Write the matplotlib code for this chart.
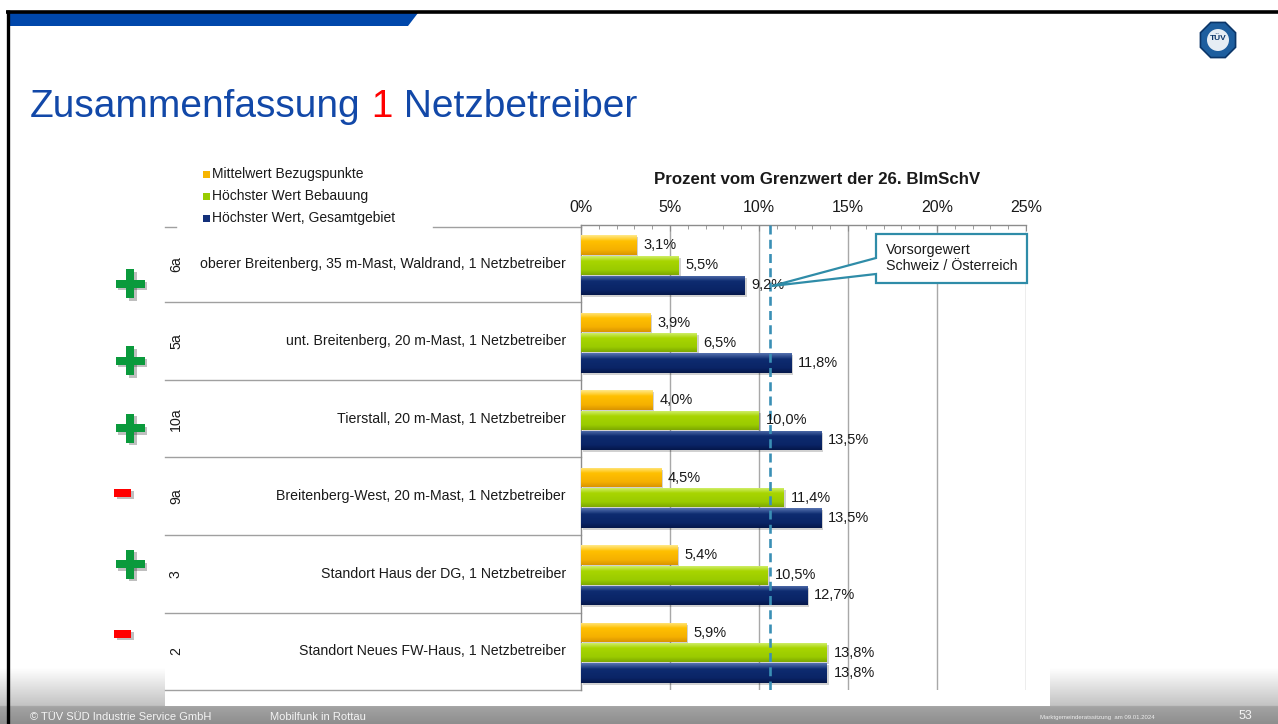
import numpy as np
import matplotlib
matplotlib.use("Agg")
import matplotlib.pyplot as plt
from matplotlib.patches import Rectangle, Polygon, RegularPolygon, Circle
from matplotlib.colors import LinearSegmentedColormap, to_rgb
import matplotlib.transforms as mtransforms

plt.rcParams['font.family'] = ['Liberation Sans', 'DejaVu Sans']

# ---------------- data ----------------
codes = ['6a', '5a', '10a', '9a', '3', '2']
sites = ['oberer Breitenberg, 35 m-Mast, Waldrand, 1 Netzbetreiber',
         'unt. Breitenberg, 20 m-Mast, 1 Netzbetreiber',
         'Tierstall, 20 m-Mast, 1 Netzbetreiber',
         'Breitenberg-West, 20 m-Mast, 1 Netzbetreiber',
         'Standort Haus der DG, 1 Netzbetreiber',
         'Standort Neues FW-Haus, 1 Netzbetreiber']
signs = ['+', '+', '+', '-', '+', '-']
mittelwert = [3.1, 3.9, 4.0, 4.5, 5.4, 5.9]
bebauung = [5.5, 6.5, 10.0, 11.4, 10.5, 13.8]
gesamt = [9.2, 11.8, 13.5, 13.5, 12.7, 13.8]
series_names = ['Mittelwert Bezugspunkte', 'Höchster Wert Bebauung',
                'Höchster Wert, Gesamtgebiet']
x_ticks = [0, 5, 10, 15, 20, 25]
vorsorgewert = 10.6
axis_title = 'Prozent vom Grenzwert der 26. BImSchV'
callout_text = 'Vorsorgewert\nSchweiz / Österreich'

# ---------------- style ----------------
W, H = 1278, 724
series_grad = [['#FFE98A', '#FFC000', '#F5B000', '#D99400'],
               ['#D6F27A', '#A8D500', '#9ACB00', '#7DA800'],
               ['#5672B0', '#0E2C70', '#0A2466', '#05174A']]
legend_colors = ['#F7B500', '#99CC00', '#13307A']
offsets = [-0.24, 0.02, 0.28]
bar_h = 0.25
sign_dy = [0.26, 0.25, 0.12, -0.045, -0.12, -0.225]
teal = '#2F8CA8'

fig = plt.figure(figsize=(W / 100, H / 100), dpi=100)
fig.patch.set_facecolor('white')

# background axes in pixel coordinates
bg = fig.add_axes([0, 0, 1, 1], zorder=0)
bg.set_xlim(0, W)
bg.set_ylim(H, 0)
bg.axis('off')

# footer gradient
rows = np.linspace(668, 724, 112)
img = np.zeros((len(rows), 1, 3))
for k, yy in enumerate(rows):
    if yy < 706:
        t = np.clip((yy - 668) / (706 - 668), 0, 1)
        c = np.array(to_rgb('#FFFFFF')) * (1 - t) + np.array(to_rgb('#C2C2C2')) * t
    else:
        t = (yy - 706) / (724 - 706)
        c = np.array(to_rgb('#A4A4A4')) * (1 - t) + np.array(to_rgb('#8E8E8E')) * t
    img[k, 0] = c
bg.imshow(img, extent=(0, W, 724, 668), origin='upper', aspect='auto', zorder=1,
          interpolation='bilinear')
bg.add_patch(Rectangle((165, 640), 1050 - 165, 706 - 640, facecolor='white',
                       edgecolor='none', zorder=2))
bg.set_xlim(0, W)
bg.set_ylim(H, 0)

# frame + top bar
bg.plot([6, W], [11.5, 11.5], color='black', lw=2.6, solid_capstyle='butt', zorder=5)
bg.plot([7.5, 7.5], [10, H], color='black', lw=2.4, solid_capstyle='butt', zorder=5)
bg.add_patch(Polygon([(9, 13), (418, 13), (408, 26), (9, 26)], closed=True,
                     facecolor='#0047AB', edgecolor='none', zorder=4))

# logo
bg.add_patch(RegularPolygon((1218, 40), numVertices=8, radius=19, orientation=np.pi / 8,
                            facecolor='#1E5E9E', edgecolor='#0B3568', lw=1.2, zorder=5))
bg.add_patch(Circle((1218, 40), 11, facecolor='#E6EDF4', edgecolor='none', zorder=6))
bg.text(1218, 39, 'TÜV', ha='center', va='center', fontsize=6, fontweight='bold',
        color='#0B3568', zorder=7)

# title
t1 = bg.text(30, 125, 'Zusammenfassung', fontsize=28, color='#1248A8', va='bottom',
             ha='left', zorder=5)
t2 = bg.annotate(' 1', xy=(1, 0), xycoords=t1, fontsize=28, color='#FF0000',
                 va='bottom', ha='left', zorder=5)
bg.annotate(' Netzbetreiber', xy=(1, 0), xycoords=t2, fontsize=28, color='#1248A8',
            va='bottom', ha='left', zorder=5)

# legend
for k, (name, col) in enumerate(zip(series_names, legend_colors)):
    yy = [174, 196, 218][k]
    bg.add_patch(Rectangle((203, yy - 3.5), 7, 7, facecolor=col, edgecolor='none', zorder=5))
    bg.text(211.5, yy, name, fontsize=10, va='center', ha='left', color='#1a1a1a', zorder=5)

# axis title
bg.text(817, 179, axis_title, fontsize=12.2, fontweight='bold', ha='center',
        va='center', color='#1a1a1a', zorder=5)

# footer text
bg.text(30, 717, '© TÜV SÜD Industrie Service GmbH', fontsize=8, color='#F4F4F4',
        va='center', ha='left', zorder=5)
bg.text(270, 717, 'Mobilfunk in Rottau', fontsize=8, color='#F4F4F4',
        va='center', ha='left', zorder=5)
bg.text(1040, 718, 'Marktgemeinderatssitzung  am 09.01.2024', fontsize=4.3, color='#EEEEEE',
        va='center', ha='left', zorder=5)
bg.text(1252, 716, '53', fontsize=9, color='#F4F4F4', va='center', ha='right', zorder=5)

# ---------------- main chart ----------------
x0, x1, y0, y1 = 581, 1026, 225, 690
ax = fig.add_axes([x0 / W, (H - y1) / H, (x1 - x0) / W, (y1 - y0) / H], zorder=3)
ax.set_facecolor('none')
n = len(codes)
ypos = np.arange(n)
ax.set_xlim(0, 25)
ax.set_ylim(n - 0.5, -0.5)

for s in ['right', 'bottom']:
    ax.spines[s].set_visible(False)
for s in ['left', 'top']:
    ax.spines[s].set_color('#8C8C8C')
    ax.spines[s].set_linewidth(1)
ax.set_yticks([])
ax.xaxis.tick_top()
ax.set_xticks(x_ticks)
ax.set_xticklabels([f'{v}%' for v in x_ticks], fontsize=11.5, color='#1a1a1a')
ax.set_xticks(np.arange(0, 26, 1), minor=True)
ax.tick_params(axis='x', which='major', direction='in', length=4, color='#8C8C8C', pad=7)
ax.tick_params(axis='x', which='minor', direction='in', length=3, color='#8C8C8C')
for v in x_ticks[1:]:
    ax.axvline(v, color='#A8A8A8', lw=1, zorder=0)

shadow_tr = ax.transData + mtransforms.ScaledTranslation(2 / 100, -2 / 100, fig.dpi_scale_trans)
grad = np.linspace(0, 1, 64).reshape(-1, 1)
for series, off, gcols in zip([mittelwert, bebauung, gesamt], offsets, series_grad):
    bars = ax.barh(ypos + off, series, height=bar_h, color=gcols[1], edgecolor='none', zorder=3)
    cmap = LinearSegmentedColormap.from_list('g', list(zip([0, 0.3, 0.75, 1], gcols)))
    for rect, v in zip(bars, series):
        rx, ry, rw, rh = rect.get_x(), rect.get_y(), rect.get_width(), rect.get_height()
        sh = Rectangle((rx, ry), rw, rh, facecolor='#000000', alpha=0.18, edgecolor='none',
                       transform=shadow_tr, zorder=2)
        ax.add_patch(sh)
        im = ax.imshow(grad, extent=(rx, rx + rw, ry + rh, ry), origin='upper', cmap=cmap,
                       aspect='auto', zorder=3.5, interpolation='bilinear')
        im.set_clip_path(rect)
        ax.annotate(f'{v:.1f}'.replace('.', ',') + '%', xy=(v, ry + rh / 2), xytext=(7, 0),
                    textcoords='offset pixels', va='center', ha='left', fontsize=10.5,
                    color='#1a1a1a', zorder=5)
ax.set_xlim(0, 25)
ax.set_ylim(n - 0.5, -0.5)

# Vorsorgewert line
ax.axvline(vorsorgewert, color='#3A8FB5', lw=1.9, linestyle=(0, (3.4, 2.0)), zorder=4)

# label table
bl = mtransforms.blended_transform_factory(ax.transAxes, ax.transData)
xl = (165 - x0) / (x1 - x0)
for b in np.arange(n + 1) - 0.5:
    if b == -0.5:
        continue
    ax.plot([xl, 0], [b, b], color='#A0A0A0', lw=1, transform=bl, clip_on=False, zorder=1)
bg.plot([165, 176], [226.5, 226.5], color='#A0A0A0', lw=1, zorder=5)
bg.plot([433, 581], [226.5, 226.5], color='#A0A0A0', lw=1, zorder=5)
for i in range(n):
    ax.text((566 - x0) / (x1 - x0), i, sites[i], transform=bl, ha='right', va='center',
            fontsize=10.2, color='#1a1a1a')
    ax.text((176 - x0) / (x1 - x0), i, codes[i], transform=bl, ha='center', va='center',
            rotation=90, fontsize=10.2, color='#1a1a1a')

# signs (+ / -)
def to_bg(xd, yd):
    px, py = ax.transData.transform((xd, yd))
    return px, H - py

for i, sg in enumerate(signs):
    _, cy = to_bg(0, i + sign_dy[i])
    if sg == '+':
        cx = 130
        for dx, dy, a in [(2.5, 2.5, 0.25), (0, 0, 1)]:
            col = '#000000' if a < 1 else '#0A9A3C'
            bg.add_patch(Rectangle((cx - 14.5 + dx, cy - 4 + dy), 29, 8, facecolor=col,
                                   alpha=a, edgecolor='none', zorder=5))
            bg.add_patch(Rectangle((cx - 4 + dx, cy - 14.5 + dy), 8, 29, facecolor=col,
                                   alpha=a, edgecolor='none', zorder=5))
    else:
        cx = 122.5
        bg.add_patch(Rectangle((cx - 8.5 + 2.5, cy - 4 + 2.5), 17, 8, facecolor='#000000',
                               alpha=0.25, edgecolor='none', zorder=5))
        bg.add_patch(Rectangle((cx - 8.5, cy - 4), 17, 8, facecolor='#FF0000',
                               edgecolor='none', zorder=5))

# callout
ov = fig.add_axes([0, 0, 1, 1], zorder=5)
ov.set_xlim(0, W)
ov.set_ylim(H, 0)
ov.axis('off')
ov.add_patch(Polygon([(876, 234), (1027, 234), (1027, 283), (876, 283), (876, 274),
                      (772, 286), (876, 258)], closed=True, facecolor='white',
                     edgecolor=teal, lw=1.6, joinstyle='miter'))
ov.text(886, 258, callout_text, fontsize=10.3, va='center', ha='left', color='#1a1a1a',
        linespacing=1.1)

fig.savefig('out.png', dpi=100)
